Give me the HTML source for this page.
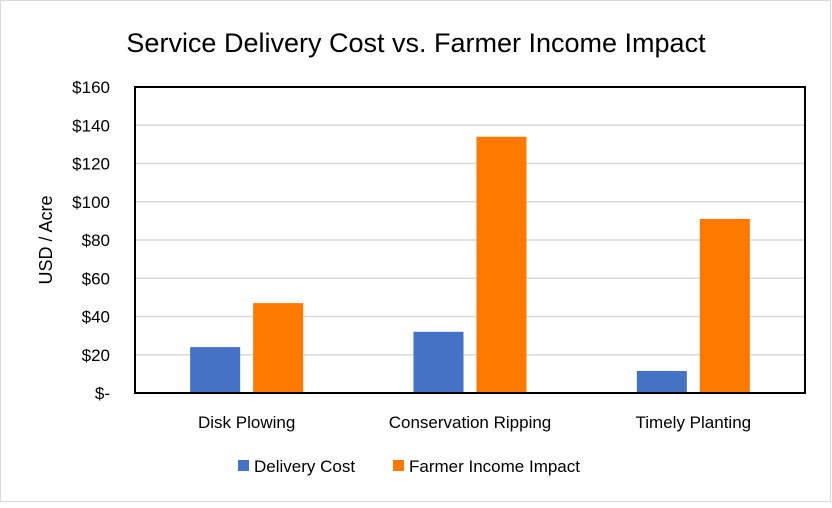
<!DOCTYPE html>
<html><head><meta charset="utf-8"><style>
body{margin:0;background:#fff;font-family:"Liberation Sans",Carlito,sans-serif}
svg text{font-family:"Liberation Sans",sans-serif;fill:#000}
</style></head><body>
<svg width="832" height="503">
<rect x="0.5" y="0.5" width="830" height="501" fill="#fff" stroke="#d9d9d9"/>
<text x="416" y="52" text-anchor="middle" font-size="27">Service Delivery Cost vs. Farmer Income Impact</text>
<g id="grid"></g><g id="bars"></g><g id="axes"></g>
<text transform="translate(52,240) rotate(-90)" text-anchor="middle" font-size="18">USD / Acre</text>
<g>
<rect x="238" y="460" width="11" height="11" fill="#4472c4"/>
<text x="254" y="472" font-size="17">Delivery Cost</text>
<rect x="393" y="460" width="11" height="11" fill="#ff7800"/>
<text x="409" y="472" font-size="17">Farmer Income Impact</text>
</g>
</svg>
<script>
const categories=["Disk Plowing","Conservation Ripping","Timely Planting"];
const deliveryCost=[24,32,11.5];
const incomeImpact=[47,134,91];
const yTicks=[0,20,40,60,80,100,120,140,160];
const yTickLabels=["$-","$20","$40","$60","$80","$100","$120","$140","$160"];
const L=135,R=805,T=87,B=393,yMax=160;
const ns="http://www.w3.org/2000/svg";
const y=v=>B-(v/yMax)*(B-T);
const bw=(R-L)/categories.length;
const xc=i=>L+bw*(i+0.5);
function mk(tag,attrs,parent,txt){const e=document.createElementNS(ns,tag);for(const k in attrs)e.setAttribute(k,attrs[k]);if(txt!==undefined)e.textContent=txt;document.getElementById(parent).appendChild(e);return e;}
yTicks.forEach((t,i)=>{
  if(t>0&&t<yMax){const g=mk('line',{x1:L,x2:R,y1:y(t),y2:y(t),stroke:'#d9d9d9','stroke-width':1.5},'grid');
  
  }
  const tl=mk('text',{x:110,y:y(t)+6,'text-anchor':'end','font-size':17},'axes',yTickLabels[i]);
  
  
});
categories.forEach((c,i)=>{
  const b1=mk('rect',{x:xc(i)-56.5,y:y(deliveryCost[i]),width:50,height:B-y(deliveryCost[i]),fill:'#4472c4'},'bars');
  
  
  const b2=mk('rect',{x:xc(i)+6.5,y:y(incomeImpact[i]),width:50,height:B-y(incomeImpact[i]),fill:'#ff7800'},'bars');
  
  
  const tl=mk('text',{x:xc(i),y:428,'text-anchor':'middle','font-size':17},'axes',c);
  
  
});
const f=mk('rect',{x:L,y:T,width:R-L,height:B-T,fill:'none',stroke:'#000','stroke-width':2},'axes');


</script>
</body></html>
